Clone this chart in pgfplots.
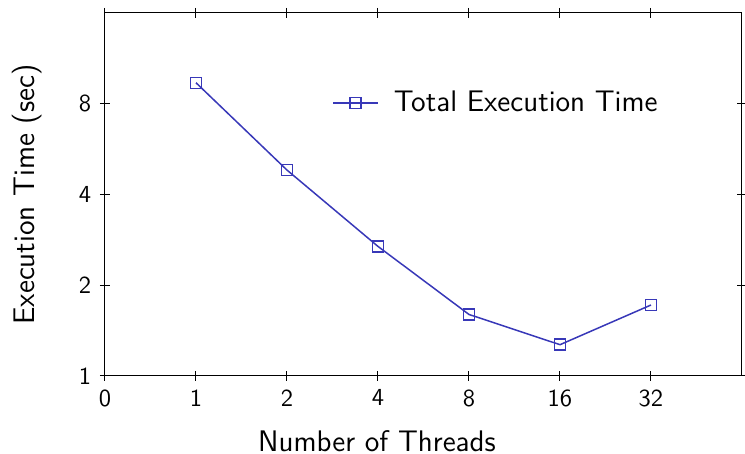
\documentclass[border=0pt]{standalone}
\usepackage{pgfplots}
\pgfplotsset{compat=1.18}
\renewcommand{\familydefault}{\sfdefault}
\definecolor{lc}{RGB}{56,56,184}
\begin{document}
\begin{tikzpicture}
\begin{axis}[
  scale only axis, width=254.8pt, height=145.2pt,
  xmin=0, xmax=7, ymode=log, log basis y=2, ymin=1, ymax=16,
  xtick={0,1,2,3,4,5,6}, xticklabels={0,1,2,4,8,16,32},
  ytick={1,2,4,8}, yticklabels={1,2,4,8},
  tick align=center, major tick length=4pt,
  tick style={black, line width=0.4pt},
  axis line style={line width=0.4pt},
  ticklabel style={font=\fontsize{9.8}{11}\selectfont},
  /pgf/number format/assume math mode=true,
  xlabel={Number of Threads}, ylabel={Execution Time (sec)},
  label style={font=\fontsize{11.9}{14}\selectfont},
  xlabel style={at={(axis description cs:0.427,-0.179)}, anchor=center},
  ylabel style={at={(axis description cs:-0.1225,0.5)}, anchor=center},
  legend style={draw=none, fill=none, at={(axis description cs:0.356,0.752)}, anchor=west, inner sep=0pt, font=\fontsize{11.9}{14}\selectfont},
  legend image code/.code={\draw[mark repeat=2,mark phase=2,#1] plot coordinates {(0pt,0pt) (9pt,0pt) (18pt,0pt)};},
]
\coordinate (sw) at (rel axis cs:0,0);
\addplot[color=lc, line width=0.6pt, mark=square, mark size=2.2pt, mark options={solid}] coordinates {
  (1,9.39) (2,4.82) (3,2.69) (4,1.60) (5,1.27) (6,1.72)
};
\addlegendentry{\hspace{4pt}Total Execution Time}
\end{axis}
\pgfresetboundingbox
\path ([shift={(-42pt,-31.2pt)}]sw) rectangle ([shift={(256pt,150.4pt)}]sw);
\end{tikzpicture}
\end{document}
